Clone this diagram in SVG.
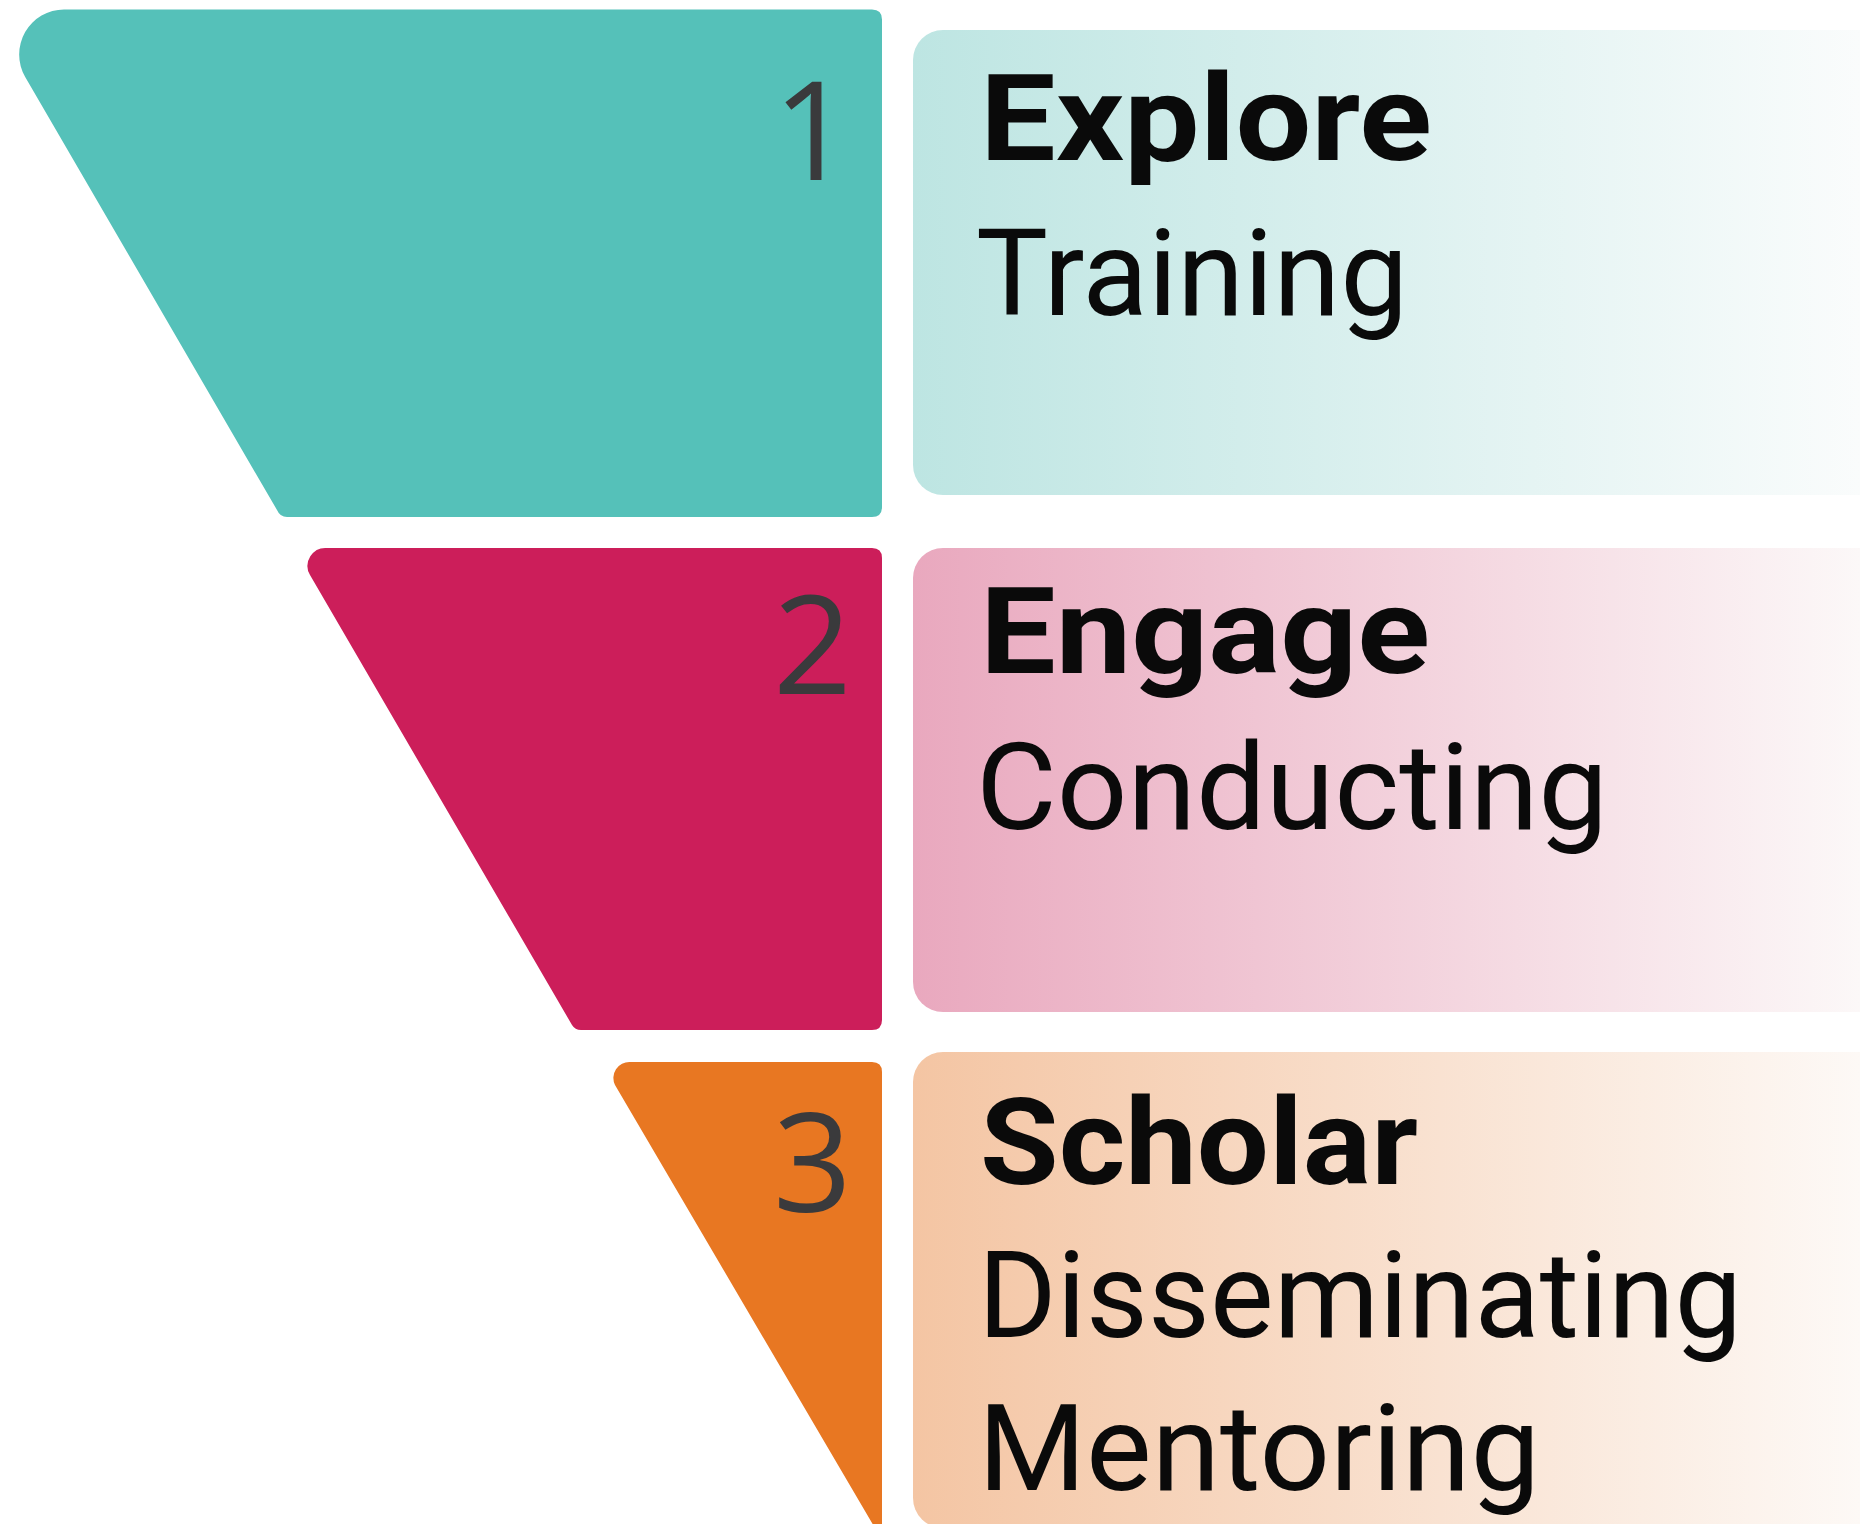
<svg xmlns="http://www.w3.org/2000/svg" width="1860" height="1524" viewBox="0 0 1860 1524">
  <style>
    .num { font-family: "Open Sans", "Noto Sans", sans-serif; font-size: 138px; fill: #3a3a3c; text-anchor: end; }
    .title { font-family: Roboto, "Liberation Sans", sans-serif; font-size: 121px; font-weight: 700; fill: #0a0a0a; font-variant-ligatures: none; }
    .sub { font-family: Roboto, "Liberation Sans", sans-serif; font-size: 121px; font-weight: 400; fill: #0a0a0a; font-variant-ligatures: none; }
  </style>
  <defs>
    <linearGradient id="gTeal" x1="913" y1="0" x2="1860" y2="0" gradientUnits="userSpaceOnUse">
      <stop offset="0" stop-color="#bde5e2"/>
      <stop offset="1" stop-color="#fafcfc"/>
    </linearGradient>
    <linearGradient id="gPink" x1="913" y1="0" x2="1860" y2="0" gradientUnits="userSpaceOnUse">
      <stop offset="0" stop-color="#e9a8be"/>
      <stop offset="1" stop-color="#fcf8f8"/>
    </linearGradient>
    <linearGradient id="gOrange" x1="913" y1="0" x2="1860" y2="0" gradientUnits="userSpaceOnUse">
      <stop offset="0" stop-color="#f4c5a3"/>
      <stop offset="1" stop-color="#fdf9f6"/>
    </linearGradient>
  </defs>
  <rect x="0" y="0" width="1860" height="1524" fill="#ffffff"/>

  <g id="step1">
    <path d="M64 9.5 L872 9.5 Q882 9.5 882 19.5 L882 507 Q882 517 872 517 L287 517 Q280 517 277 510 L25.2 77 A45 45 0 0 1 64 9.5 Z" fill="#55c1b9"/>
    <text class="num" x="852" y="180">1</text>
    <rect x="913" y="30" width="1000" height="465" rx="30" fill="url(#gTeal)"/>
    <text class="title" x="980" y="160" textLength="452" lengthAdjust="spacingAndGlyphs">Explore</text>
    <text class="sub" x="976" y="315" textLength="432" lengthAdjust="spacingAndGlyphs">Training</text>
  </g>

  <g id="step2">
    <path d="M327 548 L872 548 Q882 548 882 558 L882 1020 Q882 1030 872 1030 L581 1030 Q575 1030 572 1025 L310 575 A18 18 0 0 1 327 548 Z" fill="#cc1e5a"/>
    <text class="num" x="852" y="694">2</text>
    <rect x="913" y="548" width="1000" height="464" rx="30" fill="url(#gPink)"/>
    <text class="title" x="980" y="673" textLength="450" lengthAdjust="spacingAndGlyphs">Engage</text>
    <text class="sub" x="976" y="829" textLength="632" lengthAdjust="spacingAndGlyphs">Conducting</text>
  </g>

  <g id="step3">
    <path d="M630 1062 L872 1062 Q882 1062 882 1072 L882 1540 L615 1085 A16 16 0 0 1 630 1062 Z" fill="#e87722"/>
    <text class="num" x="852" y="1212">3</text>
    <rect x="913" y="1052" width="1000" height="476" rx="30" fill="url(#gOrange)"/>
    <text class="title" x="980" y="1184" textLength="438" lengthAdjust="spacingAndGlyphs">Scholar</text>
    <text class="sub" x="978" y="1337" textLength="764" lengthAdjust="spacingAndGlyphs">Disseminating</text>
    <text class="sub" x="978" y="1490" textLength="562" lengthAdjust="spacingAndGlyphs">Mentoring</text>
  </g>

  <g id="connectors"></g>
</svg>
